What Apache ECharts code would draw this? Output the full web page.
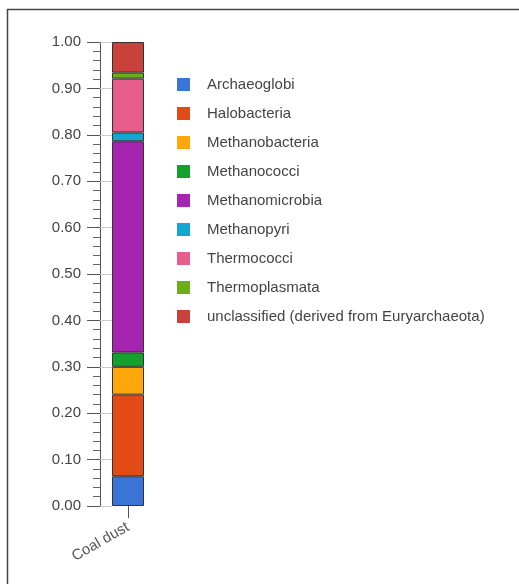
<!DOCTYPE html>
<html>
<head>
<meta charset="utf-8">
<script src="https://cdn.jsdelivr.net/npm/echarts@6/dist/echarts.min.js"></script>
<style>
html,body{margin:0;padding:0;background:#fff;}
#chart{width:519px;height:584px;}
</style>
</head>
<body>
<div id="chart"></div>
<script>
var categories = ['Coal dust'];
var seriesNames = ['Archaeoglobi','Halobacteria','Methanobacteria','Methanococci','Methanomicrobia','Methanopyri','Thermococci','Thermoplasmata','unclassified (derived from Euryarchaeota)'];
var seriesValues = [0.064, 0.176, 0.060, 0.031, 0.455, 0.019, 0.116, 0.013, 0.066];
var colors = ['#3a74d6','#e24a16','#ffa70a','#13a02c','#a524b0','#12a6d1','#e75d8c','#6cae16','#c9413b'];
var yTicks = {min: 0, max: 1, interval: 0.1};

var chart = echarts.init(document.getElementById('chart'));
var series = seriesNames.map(function(n, i){
  return {
    name: n, type: 'bar', stack: 'total', barWidth: 32,
    itemStyle: {color: colors[i], borderColor: '#333', borderWidth: 1},
    data: [seriesValues[i]]
  };
});
var font = 'Arial, "Liberation Sans", sans-serif';
chart.setOption({
  animation: false,
  color: colors,
  grid: {left: 100, right: 363, top: 42, bottom: 78, containLabel: false},
  legend: {
    orient: 'vertical', left: 177, top: 77, padding: 0,
    itemWidth: 13, itemHeight: 13, itemGap: 14,
    icon: 'rect',
    selectedMode: false,
    itemStyle: {borderWidth: 0},
    textStyle: {color: '#444', fontSize: 15, fontFamily: font, lineHeight: 15, padding: [0,0,0,12]},
    data: seriesNames
  },
  xAxis: {
    type: 'category', data: categories,
    axisLine: {show: false},
    axisTick: {show: true, alignWithLabel: true, length: 12, lineStyle: {color: '#555'}},
    axisLabel: {rotate: 30, color: '#555', fontSize: 15, fontFamily: font, margin: 20}
  },
  yAxis: [{
    type: 'value', min: yTicks.min, max: yTicks.max, interval: yTicks.interval,
    axisLine: {show: true, lineStyle: {color: '#555', width: 1}},
    axisTick: {show: true, length: 13, lineStyle: {color: '#555'}},
    minorTick: {show: true, splitNumber: 5, length: 7, lineStyle: {color: '#666'}},
    splitLine: {show: false},
    axisLabel: {color: '#444', fontSize: 15, fontFamily: font, margin: 19,
      formatter: function(v){ return v.toFixed(2); }}
  }, {
    type: 'value', min: yTicks.min, max: yTicks.max, interval: yTicks.interval,
    position: 'left', offset: 0,
    axisLine: {show: false},
    axisTick: {show: true, inside: true, length: 12, lineStyle: {color: '#ccc'}},
    splitLine: {show: false},
    axisLabel: {show: false}
  }],
  graphic: [{
    type: 'polyline', silent: true,
    shape: {points: [[7.5, 584], [7.5, 9.5], [519, 9.5]]},
    style: {stroke: '#444', lineWidth: 1.5, fill: null}
  }],
  series: series
});
</script>
</body>
</html>
